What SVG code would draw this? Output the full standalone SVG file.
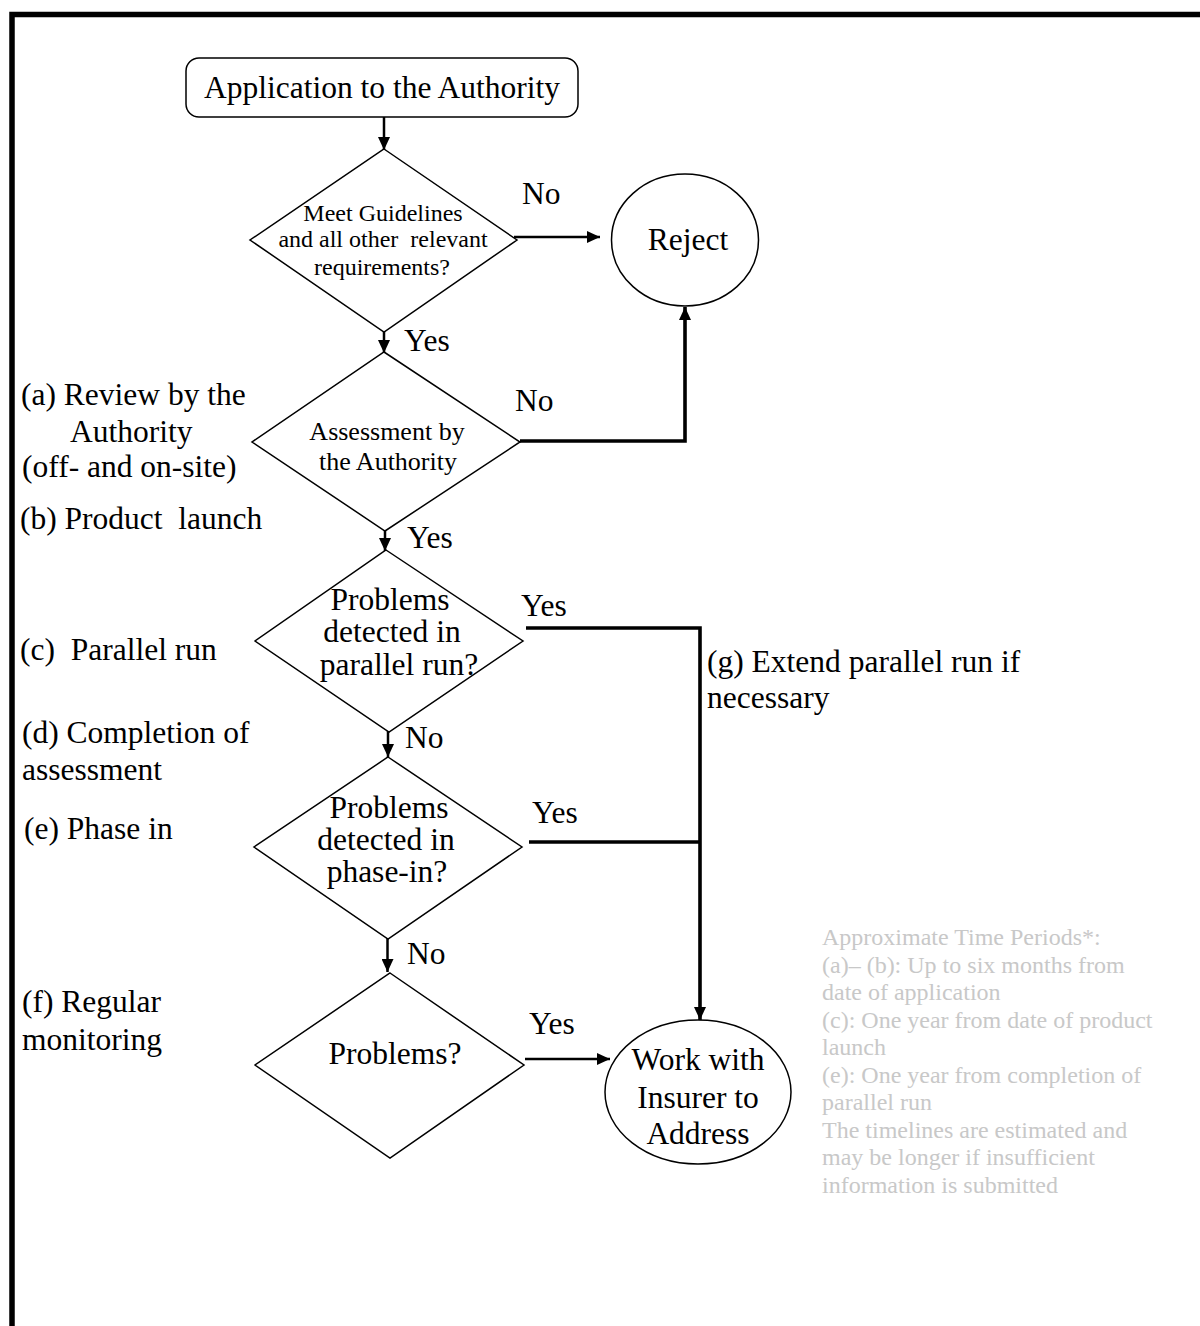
<svg xmlns="http://www.w3.org/2000/svg" width="1200" height="1326" viewBox="0 0 1200 1326" font-family="'Liberation Serif', 'Times New Roman', serif">
<defs>
<marker id="ah" markerUnits="userSpaceOnUse" markerWidth="13" markerHeight="12" viewBox="0 0 13 12" refX="13" refY="6" orient="auto">
<path d="M0,0 L13,6 L0,12 Z" fill="#000"/>
</marker>
</defs>
<style>
text{font-family:"Liberation Serif","Times New Roman",serif;fill:#000;white-space:pre}
.big{font-size:31.5px}
.mid{font-size:24px}
.d2{font-size:26px}
.c{text-anchor:middle}
.shape{fill:#fff;stroke:#000;stroke-width:1.5}
.conn{fill:none;stroke:#000;stroke-width:2.5}
.thick{fill:none;stroke:#000;stroke-width:3.6}
.note{font-size:24px;fill:#c8c8c8}
</style>
<rect width="1200" height="1326" fill="#fff"/>
<path d="M12,1326 V14.5 H1200" fill="none" stroke="#000" stroke-width="5.5"/>

<g id="connectors">
<path class="conn" d="M384,117 V150" marker-end="url(#ah)"/>
<path class="conn" d="M514,237 H600" marker-end="url(#ah)"/>
<path class="conn" d="M384,315 V353" marker-end="url(#ah)"/>
<path class="thick" d="M520,441 H685 V307" marker-end="url(#ah)"/>
<path class="conn" d="M385,520 V551" marker-end="url(#ah)"/>
<path class="thick" d="M526,628 H700 V1020" marker-end="url(#ah)"/>
<path class="conn" d="M388,718 V757" marker-end="url(#ah)"/>
<path class="thick" d="M529,842 H700"/>
<path class="conn" d="M387.5,927 V972" marker-end="url(#ah)"/>
<path class="conn" d="M525,1059 H610" marker-end="url(#ah)"/>
<text class="big" x="522" y="204">No</text>
<text class="big" x="404" y="351">Yes</text>
<text class="big" x="515" y="411">No</text>
<text class="big" x="407" y="548">Yes</text>
<text class="big" x="521" y="616">Yes</text>
<text class="big" x="405" y="748">No</text>
<text class="big" x="532" y="823">Yes</text>
<text class="big" x="407" y="964">No</text>
<text class="big" x="529" y="1034">Yes</text>
</g>

<g id="start">
<rect class="shape" x="186" y="58" width="392" height="59" rx="13"/>
<text class="big c" x="382" y="98">Application to the Authority</text>
</g>

<g id="d1">
<polygon class="shape" points="384,149 517,240 384,332 250,240"/>
<text class="mid c" x="383" y="221">Meet Guidelines</text>
<text class="mid c" x="383" y="247">and all other  relevant</text>
<text class="mid c" x="382" y="275">requirements?</text>
</g>

<g id="reject">
<ellipse class="shape" cx="685" cy="240" rx="73.5" ry="66"/>
<text class="big c" x="688" y="250">Reject</text>
</g>

<g id="d2">
<polygon class="shape" points="384,352 520,442 385,531 252,442"/>
<text class="d2 c" x="387" y="440">Assessment by</text>
<text class="d2 c" x="388" y="470">the Authority</text>
</g>

<g id="d3">
<polygon class="shape" points="386,550 523,641 389,732 255,641"/>
<text class="big c" x="390" y="610">Problems</text>
<text class="big c" x="392" y="642">detected in</text>
<text class="big c" x="399" y="675">parallel run?</text>
</g>

<g id="d4">
<polygon class="shape" points="388,757 522,847 388,939 254,847"/>
<text class="big c" x="389" y="818">Problems</text>
<text class="big c" x="386" y="850">detected in</text>
<text class="big c" x="387" y="882">phase-in?</text>
</g>

<g id="d5">
<polygon class="shape" points="390,973 524,1065 390,1158 255,1065"/>
<text class="big c" x="395" y="1064">Problems?</text>
</g>

<g id="work">
<ellipse class="shape" cx="698" cy="1092" rx="93" ry="72"/>
<text class="big c" x="698" y="1070">Work with</text>
<text class="big c" x="698" y="1108">Insurer to</text>
<text class="big c" x="698" y="1144">Address</text>
</g>

<g id="labels">
<text class="big" x="21" y="405">(a) Review by the</text>
<text class="big" x="70" y="442">Authority</text>
<text class="big" x="22" y="477">(off- and on-site)</text>
<text class="big" x="20" y="529">(b) Product  launch</text>
<text class="big" x="20" y="660">(c)  Parallel run</text>
<text class="big" x="22" y="743">(d) Completion of</text>
<text class="big" x="22" y="780">assessment</text>
<text class="big" x="24" y="839">(e) Phase in</text>
<text class="big" x="22" y="1012">(f) Regular</text>
<text class="big" x="22" y="1050">monitoring</text>
<text class="big" x="707" y="672">(g) Extend parallel run if</text>
<text class="big" x="707" y="708">necessary</text>
</g>

<g id="note">
<text class="note" x="822" y="945">Approximate Time Periods*:</text>
<text class="note" x="822" y="972.5">(a)– (b): Up to six months from</text>
<text class="note" x="822" y="1000">date of application</text>
<text class="note" x="822" y="1027.5">(c): One year from date of product</text>
<text class="note" x="822" y="1055">launch</text>
<text class="note" x="822" y="1082.5">(e): One year from completion of</text>
<text class="note" x="822" y="1110">parallel run</text>
<text class="note" x="822" y="1137.5">The timelines are estimated and</text>
<text class="note" x="822" y="1165">may be longer if insufficient</text>
<text class="note" x="822" y="1192.5">information is submitted</text>
</g>
</svg>
